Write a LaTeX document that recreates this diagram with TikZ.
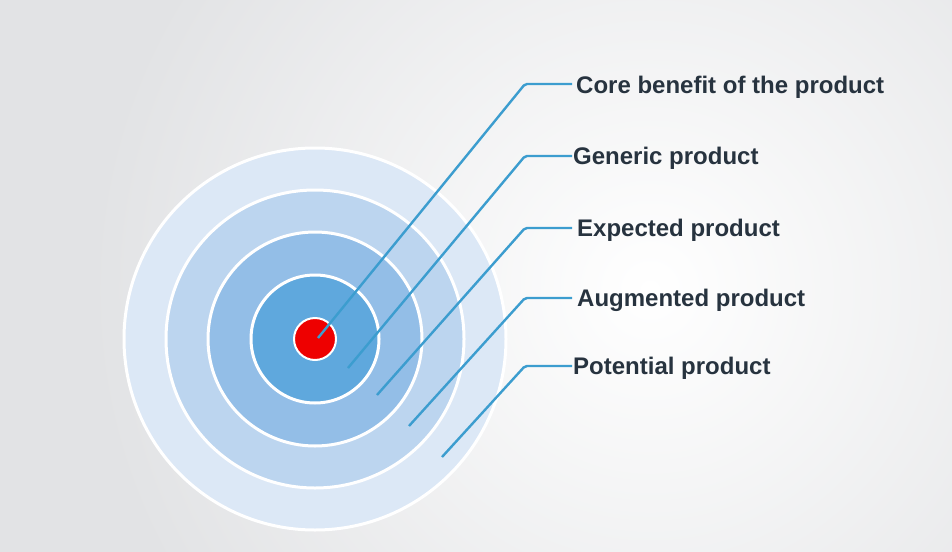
\documentclass[tikz,border=0pt]{standalone}
\usepackage{fontspec}
\setmainfont{Liberation Sans}
\definecolor{bggrey}{HTML}{E2E3E5}
\definecolor{ringA}{HTML}{DCE8F6}
\definecolor{ringB}{HTML}{BCD5EF}
\definecolor{ringC}{HTML}{93BEE7}
\definecolor{ringD}{HTML}{5FA8DD}
\definecolor{coreRed}{HTML}{EE0000}
\definecolor{leader}{HTML}{3C9DCF}
\definecolor{labeltext}{HTML}{27333F}
\begin{document}
\begin{tikzpicture}[x=1pt,y=-1pt,
  ring/.style={draw=white,line width=3pt},
  leaderline/.style={draw=leader,line width=2.4pt,rounded corners=2pt},
  lbl/.style={anchor=base west,inner xsep=4pt,inner ysep=0pt,font=\bfseries\fontsize{24}{28}\selectfont,text=labeltext}]
\useasboundingbox (0,0) rectangle (952,551);
% background
\fill[bggrey] (-10,-10) rectangle (962,561);
\begin{scope}
\clip (-10,-10) rectangle (962,561);
\shade[inner color=white,outer color=bggrey] (650,290) circle (560);
\end{scope}
% target rings
\draw[ring,fill=ringA] (315,339) circle (191);
\draw[ring,fill=ringB] (315,339) circle (149);
\draw[ring,fill=ringC] (315,339) circle (107);
\draw[ring,fill=ringD] (315,339) circle (64);
\draw[draw=white,line width=2pt,fill=coreRed] (315,339) circle (21);
% leader end points
\coordinate (p1) at (318,338);
\coordinate (p2) at (348,368);
\coordinate (p3) at (377,395);
\coordinate (p4) at (409,426);
\coordinate (p5) at (442,457);
\coordinate (b1) at (525,84);
\coordinate (b2) at (525,156);
\coordinate (b3) at (525,228);
\coordinate (b4) at (525,298);
\coordinate (b5) at (525,366);
% labels
\node[lbl] (t1) at (572,93) {Core benefit of the product};
\node[lbl] (t2) at (569,164) {Generic product};
\node[lbl] (t3) at (573,236) {Expected product};
\node[lbl] (t4) at (573,306) {Augmented product};
\node[lbl] (t5) at (569,374) {Potential product};
% leaders
\draw[leaderline] (p1) -- (b1) -- (b1 -| 572,0);
\draw[leaderline] (p2) -- (b2) -- (b2 -| 572,0);
\draw[leaderline] (p3) -- (b3) -- (b3 -| 572,0);
\draw[leaderline] (p4) -- (b4) -- (b4 -| 572,0);
\draw[leaderline] (p5) -- (b5) -- (b5 -| 572,0);
\end{tikzpicture}
\end{document}
